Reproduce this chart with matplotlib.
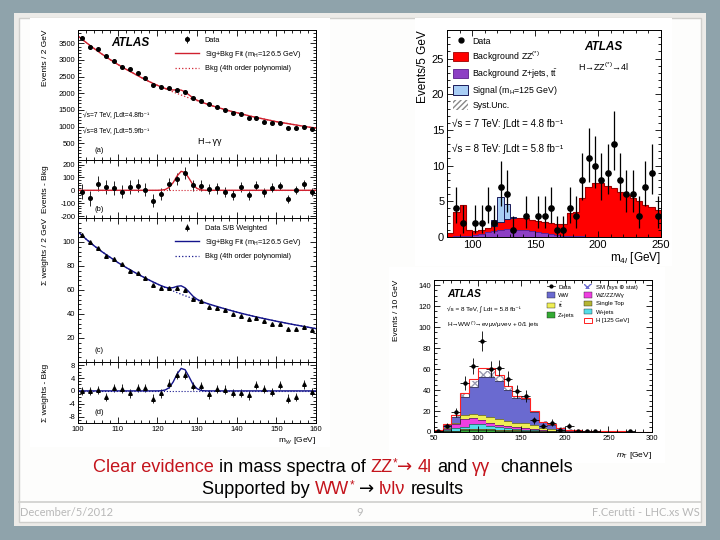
import numpy as np
import matplotlib.pyplot as plt
from matplotlib.patches import Rectangle, Patch
from matplotlib.lines import Line2D
from matplotlib.ticker import MultipleLocator

plt.rcParams['font.family'] = ['Liberation Sans', 'DejaVu Sans']
plt.rcParams['mathtext.fontset'] = 'custom'
plt.rcParams['mathtext.rm'] = 'Liberation Sans'
plt.rcParams['mathtext.it'] = 'Liberation Sans:italic'
plt.rcParams['mathtext.bf'] = 'Liberation Sans:bold'
plt.rcParams['axes.unicode_minus'] = False

# ---------------- H -> gamma gamma (panels a-d) ----------------
m_lo, m_hi, m_bin = 100, 160, 2
data_a = np.array([3650, 3400, 3330, 3130, 2970, 2800, 2720, 2620, 2450, 2250,
                   2200, 2170, 2100, 2050, 1870, 1770, 1670, 1600, 1500, 1400,
                   1370, 1250, 1250, 1150, 1120, 1100, 970, 970, 1000, 930])
resid_b = np.array([-10, -60, 50, 25, 15, -10, 25, 35, 5, -80,
                    -30, 50, 90, 135, 40, 35, 10, 15, -10, -35,
                    25, -40, 35, -15, 20, 35, -70, 0, 45, -15])
data_c = np.array([106.2, 99.7, 94.7, 88.0, 85.7, 81.5, 75.9, 73.9, 70.3, 63.9,
                   61.9, 61.3, 61.9, 59.7, 52.7, 50.8, 46.0, 45.2, 43.2, 39.6,
                   38.2, 35.9, 36.5, 34.0, 32.0, 32.0, 27.6, 27.6, 29.0, 26.4])
resid_d = np.array([0.0, 0.0, 0.2, -1.9, 1.0, 0.7, -0.8, 1.0, 1.0, -2.4,
                    -0.8, 2.3, 4.9, 4.9, 1.6, 1.5, -1.1, 0.5, 0.4, -0.7,
                    -0.7, -1.4, 1.8, 0.6, -0.4, 1.8, -2.4, -1.8, 2.0, -0.3])

# fit curves (finer steps around the peak)
fit_m = [100, 102, 104, 106, 108, 110, 112, 114, 116, 118,
         119, 120, 121, 122, 123, 124, 125, 126, 127, 128, 129, 130, 131, 132, 133, 134,
         136, 138, 140, 142, 144, 146, 148, 150, 152, 154, 156, 158, 160]
bkg_a = np.array([3720, 3530, 3350, 3180, 3020, 2870, 2730, 2600, 2470, 2350,
                  2295, 2240, 2190, 2140, 2090, 2040, 1995, 1950, 1905, 1860, 1820, 1780, 1740, 1700, 1660, 1620,
                  1550, 1480, 1420, 1360, 1300, 1250, 1200, 1150, 1110, 1070, 1030, 990, 960])
sig_a = np.array([0, 0, 0, 0, 0, 0, 0, 0, 0, 0,
                  0, 0, 1.2, 6, 23, 60, 112, 147, 138, 92, 42, 14, 3.3, 0.5, 0, 0,
                  0, 0, 0, 0, 0, 0, 0, 0, 0, 0, 0, 0, 0])
bkg_c = np.array([108.5, 102.5, 97, 92, 87.5, 83, 79, 75.2, 71.6, 68.2,
                  66.6, 65, 63.5, 62, 60.6, 59.2, 57.8, 56.5, 55.2, 54, 52.8, 51.6, 50.5, 49.4, 48.3, 47.3,
                  45.3, 43.4, 41.6, 39.9, 38.3, 36.8, 35.4, 34, 32.7, 31.4, 30.2, 29, 27.8])
sig_c = np.array([0, 0, 0, 0, 0, 0, 0, 0, 0, 0,
                  0, 0, 0.05, 0.3, 1.0, 2.8, 5.3, 7.0, 6.6, 4.4, 2.0, 0.7, 0.15, 0.02, 0, 0,
                  0, 0, 0, 0, 0, 0, 0, 0, 0, 0, 0, 0, 0])

# ---------------- H -> ZZ -> 4l ----------------
zz_lo, zz_hi, zz_bin = 80, 250, 5
zz_total = np.array([0.6, 3.45, 4.5, 1.0, 0.85, 1.0, 1.2, 1.6, 2.1, 2.5,
                     2.7, 2.7, 2.6, 2.4, 2.2, 2.1, 1.9, 1.8, 1.8, 3.3,
                     3.5, 5.5, 7.0, 7.5, 7.6, 7.2, 6.8, 6.3, 5.9, 5.5,
                     5.0, 4.5, 4.2, 3.8])
zz_zjets = np.array([0.05, 0.1, 0.15, 0.2, 0.3, 0.45, 0.65, 0.85, 1.0, 1.1,
                     1.1, 1.05, 0.95, 0.8, 0.65, 0.5, 0.4, 0.3, 0.2, 0.15,
                     0.1, 0.08, 0.07, 0.06, 0.05, 0.05, 0.05, 0.04, 0.04, 0.04,
                     0.03, 0.03, 0.03, 0.03])
zz_signal = np.array([0, 0, 0, 0, 0, 0, 0, 0.8, 3.5, 2.1,
                      0.1, 0, 0, 0, 0, 0, 0, 0, 0, 0,
                      0, 0, 0, 0, 0, 0, 0, 0, 0, 0,
                      0, 0, 0, 0])
zz_data = np.array([0, 4, 2, 0, 2, 2, 4, 2, 7, 6,
                    1, 0, 3, 0, 3, 3, 4, 1, 1, 4,
                    3, 8, 11, 10, 8, 9, 13, 8, 6, 6,
                    3, 7, 9, 3])

# ---------------- H -> WW -> lvlv ----------------
ww_lo, ww_hi, ww_bin = 50, 300, 10
ww_zjets = np.array([0.3, 0.5, 1.0, 2.0, 2.0, 2.0, 1.5, 1.2, 1.0, 0.8, 0.6, 0.5, 0.3,
                     0.2, 0.15, 0.1, 0.08, 0.06, 0.05, 0.04, 0.03, 0.03, 0.02, 0.02, 0.02])
ww_stop = np.array([0.05, 0.2, 0.4, 0.6, 0.8, 0.9, 0.9, 0.9, 0.8, 0.7, 0.6, 0.5, 0.4,
                    0.3, 0.2, 0.15, 0.1, 0.08, 0.06, 0.05, 0.04, 0.03, 0.03, 0.02, 0.02])
ww_wjets = np.array([0.3, 1.0, 2.0, 2.5, 5.0, 4.5, 3.5, 2.5, 1.8, 1.3, 1.0, 0.8, 0.5,
                     0.4, 0.3, 0.2, 0.15, 0.1, 0.08, 0.06, 0.05, 0.04, 0.03, 0.03, 0.02])
ww_wzzz = np.array([0.3, 1.5, 4.0, 7.0, 5.5, 4.0, 3.0, 2.5, 2.0, 1.5, 1.2, 1.0, 0.7,
                    0.5, 0.3, 0.2, 0.15, 0.1, 0.08, 0.06, 0.05, 0.04, 0.03, 0.03, 0.02])
ww_ttbar = np.array([0.1, 0.5, 1.5, 4.0, 4.0, 4.5, 5.5, 5.5, 5.0, 4.5, 5.0, 3.5, 2.3,
                     1.8, 1.0, 0.7, 0.5, 0.4, 0.3, 0.25, 0.2, 0.15, 0.12, 0.1, 0.08])
ww_ww = np.array([0.45, 3.3, 5.1, 16.9, 25.2, 36.6, 38.1, 36.4, 29.4, 23.2, 23.1, 12.7, 5.3,
                  3.8, 1.85, 0.85, 0.6, 0.55, 0.43, 0.34, 0.23, 0.21, 0.17, 0.1, 0.14])
ww_unc = np.array([0.3, 1, 2, 3, 6, 6, 6, 5, 3.5, 2, 1.5, 1.5, 1,
                   0.8, 0.5, 0.3, 0.2, 0.2, 0.1, 0.1, 0.1, 0.1, 0.1, 0.1, 0.1])
ww_higgs = np.array([0.1, 0.5, 2, 4, 8, 8.5, 8.5, 5, 3.5, 2, 1, 0.7, 0.3,
                     0.2, 0.1, 0.05, 0, 0, 0, 0, 0, 0, 0, 0, 0])
ww_data = np.array([1, 6, 19, 47, 63, 87, 60, 61, 51, 39, 34, 11, 6,
                    9, 2, 6, 1, 1, 1, 0, 0, 0, 1, 0, 0])

W, H = 720, 540
fig = plt.figure(figsize=(7.2, 5.4), dpi=100)
fig.patch.set_facecolor('#8fa3ab')


def px_rect(x0, y0, x1, y1, **kw):
    fig.patches.append(Rectangle((x0 / W, 1 - y1 / H), (x1 - x0) / W, (y1 - y0) / H,
                                 transform=fig.transFigure, zorder=-10, **kw))


def px_axes(x0, y0, x1, y1):
    return fig.add_axes([x0 / W, 1 - y1 / H, (x1 - x0) / W, (y1 - y0) / H])


def root_style(ax, size):
    ax.tick_params(which='both', direction='in', top=True, right=True,
                   labelsize=size, width=0.6, pad=2)
    ax.tick_params(which='major', length=4)
    ax.tick_params(which='minor', length=2)
    for s in ax.spines.values():
        s.set_linewidth(0.7)


# slide frame
px_rect(14, 13, 706, 526, facecolor='#ecebe8', edgecolor='none')
px_rect(19, 18, 701, 522, facecolor='#fdfdfc', edgecolor='#cfcfcc', lw=1)
fig.lines.append(Line2D([19 / W, 701 / W], [1 - 502 / H] * 2, transform=fig.transFigure,
                        color='#cfcfcc', lw=1.2, zorder=-9))
# plot images
px_rect(30, 18, 330, 447, facecolor='white', edgecolor='none')
px_rect(415, 18, 672, 266, facecolor='white', edgecolor='none')
px_rect(389, 267, 665, 463, facecolor='white', edgecolor='none')

# ---------------- left: gamma gamma ----------------
red_fit = '#d0212f'
navy_fit = '#14148c'
m_c = np.arange(m_lo + m_bin / 2, m_hi, m_bin)
err_a = np.sqrt(data_a)

ax_a = px_axes(78, 30, 316, 160)
ax_b = px_axes(78, 160, 316, 218)
ax_c = px_axes(78, 218, 316, 362)
ax_d = px_axes(78, 362, 316, 423)
for ax in (ax_a, ax_b, ax_c, ax_d):
    root_style(ax, 5.5)
    ax.set_xlim(m_lo, m_hi)
    ax.xaxis.set_major_locator(MultipleLocator(10))
    ax.xaxis.set_minor_locator(MultipleLocator(2))
    if ax is not ax_d:
        ax.tick_params(labelbottom=False)

h_data_a = ax_a.errorbar(m_c, data_a, yerr=err_a, fmt='o', ms=2.6, color='k', elinewidth=0.6, capsize=0)
h_sb_a, = ax_a.plot(fit_m, bkg_a + sig_a, color=red_fit, lw=1.0)
h_b_a, = ax_a.plot(fit_m, bkg_a, color=red_fit, lw=0.9, ls=':')
ax_a.set_ylim(0, 3900)
ax_a.set_yticks([500, 1000, 1500, 2000, 2500, 3000, 3500])
ax_a.yaxis.set_minor_locator(MultipleLocator(100))
ax_a.set_ylabel('Events / 2 GeV', fontsize=6, loc='top')
ax_a.yaxis.set_label_coords(-0.12, 1.0)
ax_a.legend([h_data_a, h_sb_a, h_b_a],
            ['Data', 'Sig+Bkg Fit (m$_{\\mathrm{H}}$=126.5 GeV)', 'Bkg (4th order polynomial)'],
            loc='upper left', bbox_to_anchor=(0.38, 1.0), frameon=False, fontsize=5.3,
            handlelength=3.2, labelspacing=0.7)
ax_a.text(0.14, 0.9, 'ATLAS', transform=ax_a.transAxes, fontsize=8.5, fontweight='bold',
          fontstyle='italic', va='center')
ax_a.text(0.02, 0.34, '√s=7 TeV, ∫Ldt=4.8fb⁻¹', transform=ax_a.transAxes, fontsize=4.8, va='center')
ax_a.text(0.02, 0.22, '√s=8 TeV, ∫Ldt=5.9fb⁻¹', transform=ax_a.transAxes, fontsize=4.8, va='center')
ax_a.text(0.5, 0.14, 'H→γγ', transform=ax_a.transAxes, fontsize=6.5, va='center')
ax_a.text(0.07, 0.07, '(a)', transform=ax_a.transAxes, fontsize=5.5, va='center')

ax_b.errorbar(m_c, resid_b, yerr=err_a, fmt='o', ms=2.6, color='k', elinewidth=0.6, capsize=0)
ax_b.plot(fit_m, sig_a, color=red_fit, lw=1.0)
ax_b.axhline(0, color=red_fit, lw=0.8, ls=':')
ax_b.set_ylim(-215, 235)
ax_b.set_yticks([-200, -100, 0, 100, 200])
ax_b.yaxis.set_minor_locator(MultipleLocator(20))
ax_b.set_ylabel('Events - Bkg', fontsize=6)
ax_b.yaxis.set_label_coords(-0.12, 0.5)
ax_b.text(0.07, 0.14, '(b)', transform=ax_b.transAxes, fontsize=5.5, va='center')

h_data_c = ax_c.errorbar(m_c, data_c, yerr=1.4, fmt='^', ms=2.6, color='k', elinewidth=0.6, capsize=0)
h_sb_c, = ax_c.plot(fit_m, bkg_c + sig_c, color=navy_fit, lw=1.0)
h_b_c, = ax_c.plot(fit_m, bkg_c, color=navy_fit, lw=0.9, ls=':')
ax_c.set_ylim(0, 120)
ax_c.set_yticks([20, 40, 60, 80, 100])
ax_c.yaxis.set_minor_locator(MultipleLocator(4))
ax_c.set_ylabel('Σ weights / 2 GeV', fontsize=6, loc='top')
ax_c.yaxis.set_label_coords(-0.12, 1.0)
ax_c.legend([h_data_c, h_sb_c, h_b_c],
            ['Data S/B Weighted', 'Sig+Bkg Fit (m$_{\\mathrm{H}}$=126.5 GeV)', 'Bkg (4th order polynomial)'],
            loc='upper left', bbox_to_anchor=(0.38, 1.0), frameon=False, fontsize=5.3,
            handlelength=3.2, labelspacing=0.7)
ax_c.text(0.07, 0.08, '(c)', transform=ax_c.transAxes, fontsize=5.5, va='center')

ax_d.errorbar(m_c, resid_d, yerr=1.3, fmt='^', ms=2.6, color='k', elinewidth=0.6, capsize=0)
ax_d.plot(fit_m, sig_c, color=navy_fit, lw=1.0)
ax_d.axhline(0, color=navy_fit, lw=0.8, ls=':')
ax_d.set_ylim(-10, 9)
ax_d.set_yticks([-8, -4, 0, 4, 8])
ax_d.yaxis.set_minor_locator(MultipleLocator(1))
ax_d.set_ylabel('Σ weights - Bkg', fontsize=6)
ax_d.yaxis.set_label_coords(-0.12, 0.5)
ax_d.text(0.07, 0.18, '(d)', transform=ax_d.transAxes, fontsize=5.5, va='center')
ax_d.set_xlabel('m$_{γγ}$ [GeV]', fontsize=6, loc='right', labelpad=2)

# ---------------- top right: ZZ -> 4l ----------------
zz_edges = np.arange(zz_lo, zz_hi + 1, zz_bin)
zz_c = zz_edges[:-1] + zz_bin / 2
ax_z = px_axes(447, 30, 661, 237)
root_style(ax_z, 8)
ax_z.stairs(zz_zjets, zz_edges, baseline=0, fill=True, color='#8d3fc4', lw=0)
ax_z.stairs(zz_total, zz_edges, baseline=zz_zjets, fill=True, color='#ff0000', lw=0)
ax_z.stairs(zz_zjets, zz_edges, baseline=None, color='#5a1d8a', lw=0.6)
ax_z.stairs(zz_total, zz_edges, baseline=None, color='#a00000', lw=0.8)
sig_sel = zz_signal > 0
ax_z.bar(zz_edges[:-1][sig_sel], zz_signal[sig_sel], bottom=zz_total[sig_sel], width=zz_bin,
         align='edge', color='#a8cdf5', edgecolor='#1a1a5a', lw=0.7)
d_sel = zz_data > 0
zz_n = zz_data[d_sel]
ax_z.errorbar(zz_c[d_sel], zz_n, yerr=[np.sqrt(zz_n), np.sqrt(zz_n) + 1], fmt='o', ms=3.8,
              color='k', elinewidth=0.9, capsize=0)
ax_z.set_xlim(zz_lo, zz_hi)
ax_z.set_ylim(0, 29)
ax_z.set_xticks([100, 150, 200, 250])
ax_z.xaxis.set_minor_locator(MultipleLocator(10))
ax_z.yaxis.set_major_locator(MultipleLocator(5))
ax_z.yaxis.set_minor_locator(MultipleLocator(1))
ax_z.set_ylabel('Events/5 GeV', fontsize=8.5, loc='top')
ax_z.yaxis.set_label_coords(-0.085, 1.0)
ax_z.set_xlabel('m$_{4l}$ [GeV]', fontsize=8.5, loc='right', labelpad=0)
zz_handles = [Line2D([], [], marker='o', ls='none', color='k', ms=3.5),
              Patch(facecolor='#ff0000', edgecolor='#a00000', lw=0.6),
              Patch(facecolor='#8d3fc4', edgecolor='#5a1d8a', lw=0.6),
              Patch(facecolor='#a8cdf5', edgecolor='#1a1a5a', lw=0.7),
              Patch(facecolor='white', edgecolor='#888888', hatch='//////', lw=0)]
zz_labels = ['Data', 'Background ZZ$^{(*)}$', 'Background Z+jets, t$\\bar{\\mathrm{t}}$',
             'Signal (m$_{\\mathrm{H}}$=125 GeV)', 'Syst.Unc.']
ax_z.legend(zz_handles, zz_labels, loc='upper left', bbox_to_anchor=(0.0, 1.0), frameon=False,
            fontsize=6.3, handlelength=1.7, handleheight=1.3, labelspacing=0.38, handletextpad=0.5,
            borderaxespad=0.3)
ax_z.text(0.64, 0.92, 'ATLAS', transform=ax_z.transAxes, fontsize=8.5, fontweight='bold',
          fontstyle='italic', va='center')
ax_z.text(0.61, 0.82, 'H→ZZ$^{(*)}$→4l', transform=ax_z.transAxes, fontsize=6.5, va='center')
ax_z.text(0.025, 0.545, '√s = 7 TeV: ∫Ldt = 4.8 fb⁻¹', transform=ax_z.transAxes, fontsize=7, va='center')
ax_z.text(0.025, 0.425, '√s = 8 TeV: ∫Ldt = 5.8 fb⁻¹', transform=ax_z.transAxes, fontsize=7, va='center')

# ---------------- bottom right: WW -> lvlv ----------------
ww_edges = np.arange(ww_lo, ww_hi + 1, ww_bin)
ww_c = ww_edges[:-1] + ww_bin / 2
ax_w = px_axes(434, 280, 652, 432)
root_style(ax_w, 5.5)
ww_layers = [(ww_zjets, '#33aa33'), (ww_stop, '#b5b533'), (ww_wjets, '#55dde8'),
             (ww_wzzz, '#ee3fe0'), (ww_ttbar, '#eeee55'), (ww_ww, '#6a6ad0')]
base = np.zeros(len(ww_ww))
for vals, col in ww_layers:
    ax_w.stairs(base + vals, ww_edges, baseline=base, fill=True, color=col, lw=0)
    ax_w.stairs(base + vals, ww_edges, baseline=None, color='#222222', lw=0.4)
    base = base + vals
ax_w.stairs(base + ww_unc, ww_edges, baseline=base, fill=True, facecolor='white',
            edgecolor='#9a9ab0', hatch='xxxx', lw=0)
ax_w.stairs(base + ww_higgs, ww_edges, baseline=None, color='#ff2020', lw=0.8)
w_sel = ww_data > 0
ax_w.errorbar(ww_c[w_sel], ww_data[w_sel], yerr=np.sqrt(ww_data[w_sel]), xerr=ww_bin / 2,
              fmt='o', ms=2.2, color='k', elinewidth=0.6, capsize=0)
ax_w.set_xlim(ww_lo, ww_hi)
ax_w.set_ylim(0, 145)
ax_w.xaxis.set_major_locator(MultipleLocator(50))
ax_w.xaxis.set_minor_locator(MultipleLocator(10))
ax_w.yaxis.set_major_locator(MultipleLocator(20))
ax_w.yaxis.set_minor_locator(MultipleLocator(5))
ax_w.set_ylabel('Events / 10 GeV', fontsize=6, loc='top')
ax_w.yaxis.set_label_coords(-0.155, 1.0)
ax_w.set_xlabel('$m_{\\mathrm{T}}$ [GeV]', fontsize=6, loc='right', labelpad=6)
ww_handles = [Line2D([], [], marker='o', ls='-', color='k', ms=2.0, lw=0.5),
              Patch(facecolor='#6a6ad0', edgecolor='#222222', lw=0.3),
              Patch(facecolor='#eeee55', edgecolor='#222222', lw=0.3),
              Patch(facecolor='#33aa33', edgecolor='#222222', lw=0.3),
              Patch(visible=False),
              Patch(facecolor='white', edgecolor='#6a6ad0', hatch='xxxx', lw=0),
              Patch(facecolor='#ee3fe0', edgecolor='#222222', lw=0.3),
              Patch(facecolor='#b5b533', edgecolor='#222222', lw=0.3),
              Patch(facecolor='#55dde8', edgecolor='#222222', lw=0.3),
              Patch(facecolor='white', edgecolor='#ff2020', lw=0.7)]
ww_labels = ['Data', 'WW', 't$\\bar{\\mathrm{t}}$', 'Z+jets', '',
             'SM (sys ⊕ stat)', 'WZ/ZZ/Wγ', 'Single Top', 'W+jets', 'H [125 GeV]']
ax_w.legend(ww_handles, ww_labels, ncol=2, loc='upper left', bbox_to_anchor=(0.5, 1.0),
            frameon=False, fontsize=4.3, handlelength=1.3, handleheight=1.0, labelspacing=0.45,
            columnspacing=1.6, handletextpad=0.6, borderaxespad=0.25)
ax_w.text(0.06, 0.91, 'ATLAS', transform=ax_w.transAxes, fontsize=7.5, fontweight='bold',
          fontstyle='italic', va='center')
ax_w.text(0.06, 0.805, '√s = 8 TeV, ∫ Ldt = 5.8 fb⁻¹', transform=ax_w.transAxes, fontsize=4.6, va='center')
ax_w.text(0.06, 0.705, 'H→WW$^{(*)}$→eνμν/μνeν + 0/1 jets', transform=ax_w.transAxes,
          fontsize=4.6, va='center')

# ---------------- slide text ----------------
renderer = fig.canvas.get_renderer()
dark_red = '#c4141c'


def colored_line(pieces, xc, yc, size):
    gap = fig.text(0, 0, 'a a', fontsize=size)
    nogap = fig.text(0, 0, 'aa', fontsize=size)
    space = gap.get_window_extent(renderer).width - nogap.get_window_extent(renderer).width
    gap.remove()
    nogap.remove()
    items = []
    x = 0.0
    for txt, col, scale, dy, spaces in pieces:
        fam = ['DejaVu Sans'] if txt == '→' else ['Liberation Sans', 'DejaVu Sans']
        t = fig.text(0, 1 - yc / H, txt, color=col, fontsize=size * scale, va='center', family=fam)
        w = t.get_window_extent(renderer).width
        items.append((t, x, dy))
        x += w + spaces * space
    x0 = xc - x / 2
    for t, xoff, dy in items:
        t.set_position(((x0 + xoff) / W, 1 - (yc - dy) / H))


line1 = [('Clear evidence', dark_red, 1, 0, 1), ('in mass spectra of', 'black', 1, 0, 1),
         ('ZZ', dark_red, 1, 0, 0), ('*', dark_red, 0.65, 4, 0), ('→', dark_red, 1, 0, 1),
         ('4l', dark_red, 1, 0, 1),
         ('and', 'black', 1, 0, 1), ('γγ', dark_red, 1, 0, 2), ('channels', 'black', 1, 0, 0)]
line2 = [('Supported by', 'black', 1, 0, 1), ('WW', dark_red, 1, 0, 0), ('*', dark_red, 0.65, 4, 1),
         ('→', 'black', 1, 0, 1), ('lνlν', dark_red, 1, 0, 1), ('results', 'black', 1, 0, 0)]
colored_line(line1, 333, 467, 13.1)
colored_line(line2, 333, 489, 13.1)

foot = dict(color='#b8b8b8', fontsize=8, family=['Lato', 'DejaVu Sans'], va='center')
fig.text(20 / W, 1 - 512 / H, 'December/5/2012', ha='left', **foot)
fig.text(360 / W, 1 - 512 / H, '9', ha='center', **foot)
fig.text(700 / W, 1 - 512 / H, 'F.Cerutti - LHC.xs WS', ha='right', **foot)

fig.savefig('out.png', dpi=100, facecolor=fig.get_facecolor())
